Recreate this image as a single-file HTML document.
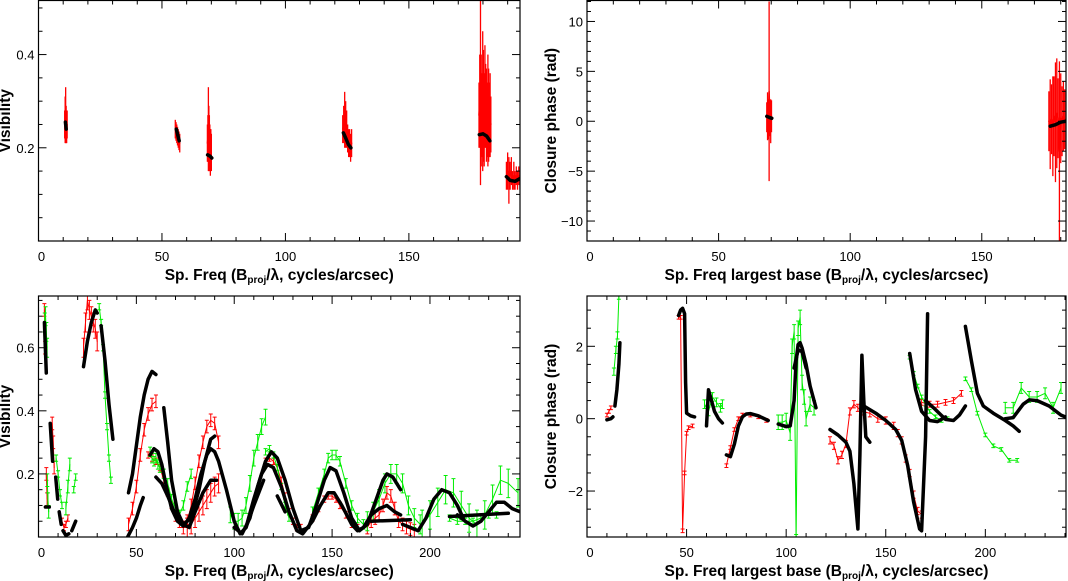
<!DOCTYPE html>
<html><head><meta charset="utf-8"><style>
html,body{margin:0;padding:0;background:#fff;}
svg{display:block;font-family:"Liberation Sans",sans-serif;}
</style></head><body>
<svg id="fig" width="1068" height="581" viewBox="0 0 1068 581"></svg>
<script>
// ---------- Panel A (top-left): visibility, red data ----------
const tlX = [10.6,10.8,11.0,11.2,11.4,11.6,null,55.4,55.7,56.0,56.3,56.6,56.9,57.2,null,68.4,68.6,68.8,69.0,69.2,69.4,69.6,69.8,70.0,null,123.2,123.6,124,124.4,124.8,125.2,125.6,126,126.4,126.8,null,178.4,178.7,179,179.3,179.6,179.9,180.2,180.5,180.8,181.1,181.4,181.7,182,182.3,182.6,182.9,183.2,null,189.5,190,190.5,191,191.5,192,192.5,193,193.5,194,194.5,195];
const tlV = [0.25,0.26,0.27,0.25,0.24,0.25,null,0.24,0.235,0.23,0.225,0.22,0.215,0.21,null,0.21,0.22,0.24,0.22,0.21,0.2,0.19,0.2,0.19,null,0.24,0.25,0.26,0.25,0.24,0.22,0.21,0.21,0.2,0.21,null,0.27,0.3,0.32,0.28,0.27,0.30,0.29,0.26,0.31,0.29,0.27,0.26,0.28,0.27,0.26,0.27,0.25,null,0.14,0.15,0.13,0.14,0.15,0.13,0.14,0.13,0.14,0.13,0.14,0.13];
const tlE = [0.03,0.05,0.06,0.04,0.03,0.03,null,0.02,0.02,0.02,0.02,0.02,0.02,0.02,null,0.04,0.05,0.09,0.07,0.06,0.05,0.05,0.04,0.04,null,0.03,0.04,0.06,0.05,0.04,0.03,0.03,0.03,0.03,0.03,null,0.07,0.1,0.2,0.12,0.09,0.15,0.12,0.1,0.11,0.09,0.1,0.08,0.12,0.1,0.08,0.09,0.06,null,0.03,0.04,0.05,0.03,0.03,0.02,0.03,0.02,0.02,0.02,0.02,0.02];
const tlModel = [
 [[10.9,0.255],[11.2,0.24]],
 [[55.8,0.24],[56.5,0.225],[57,0.215]],
 [[68.5,0.185],[69.5,0.182],[70.2,0.178]],
 [[123.5,0.232],[124.5,0.22],[125.5,0.207],[126.5,0.2]],
 [[178.5,0.228],[180,0.23],[181.5,0.225],[182.8,0.215]],
 [[189.5,0.138],[191,0.13],[193,0.128],[195,0.134]]
];
// ---------- Panel B (top-right): closure phase ----------
const trX = [68.3,68.6,68.9,69.2,69.5,69.8,70.1,null,175.5,176,176.5,177,177.5,178,178.5,179,179.5,180,180.5,181,181.5,182];
const trP = [0.4,0.5,0.2,3.0,0.3,0.0,0.5,null,0.0,-0.3,0.2,-0.5,0.5,-0.1,0.8,0.3,-3.0,0.3,0.0,0.5,0.2,0.0];
const trE = [1.5,2.4,2.0,9.0,1.8,2.2,1.6,null,3.0,4.5,3.5,5.0,4.0,6.0,5.5,4.0,9.0,4.5,3.5,3.5,3.0,3.0];
const trModel = [
 [[68.3,0.5],[69.2,0.4],[70.2,0.3]],
 [[176,-0.5],[178,-0.35],[180,-0.1],[182,0.0]]
];
// ---------- Panel C (bottom-left): visibility, red & green ----------
const blGreen = [
 [[3.2,0.68],[3.6,0.70],[4.0,0.65],[4.4,0.60]],
 [[4.5,0.18],[4.8,0.12],[5.2,0.08]],
 [[9,0.25],[10,0.2],[11,0.14],[12,0.1]],
 [[14,0.09],[15,0.16],[16,0.23]],
 [[18,0.15],[19,0.19]],
 [[31,0.73],[32,0.68],[33,0.6],[34,0.45],[35,0.35],[36,0.25],[37,0.18]],
 [[57,0.27],[58,0.25],[59,0.24],[60,0.25],[61,0.23],[62,0.22],[64,0.2],[66,0.17],[68,0.12],[70,0.09],[72,0.07],[74,0.1],[76,0.16],[78,0.2]],
 [[98,0.07],[100,0.05],[102,0.05],[104,0.06],[106,0.1],[108,0.17],[110,0.25],[112,0.3],[114,0.35],[116,0.38]],
 [[116,0.27],[118,0.28],[120,0.26],[122,0.22],[124,0.16],[126,0.1],[128,0.06]],
 [[140,0.08],[143,0.14],[146,0.2],[148,0.25],[150,0.26],[152,0.26],[154,0.24],[157,0.17],[160,0.1],[163,0.06],[166,0.04]],
 [[168,0.05],[171,0.08],[174,0.12],[177,0.17],[180,0.2],[183,0.2],[186,0.17],[189,0.1],[192,0.06],[195,0.04]],
 [[196,0.04],[200,0.07],[204,0.11],[208,0.15],[212,0.14],[216,0.1],[220,0.06],[224,0.04],[228,0.07],[232,0.12],[236,0.18],[240,0.17],[245,0.14]],
 [[210,0.06],[214,0.05],[218,0.05],[222,0.05],[226,0.06],[230,0.07],[234,0.07]]
];
const blGreenErr = [0.03,0.02,0.01,0.02,0.01,0.01,0.015,0.025,0.01,0.015,0.03,0.045,0.01];
const blRed = [
 [[3.0,0.72],[3.4,0.6]],
 [[4.0,0.2],[4.4,0.12]],
 [[7,0.36],[7.5,0.3],[8,0.22]],
 [[12,0.05],[13,0.03],[14,0.04],[15,0.06]],
 [[23,0.6],[24,0.68],[25,0.75],[26,0.72],[27,0.7],[28,0.68],[29,0.66],[30,0.62]],
 [[46,0.04],[48,0.09],[50,0.16],[52,0.26],[54,0.34],[56,0.39],[58,0.42],[60,0.43]],
 [[56,0.26],[58,0.25],[60,0.24],[62,0.22],[64,0.18],[66,0.14],[68,0.1],[70,0.06],[72,0.04],[74,0.04],[76,0.05]],
 [[74,0.03],[76,0.05],[78,0.1],[80,0.17],[82,0.24],[84,0.3],[86,0.35],[88,0.37],[90,0.36],[92,0.3]],
 [[76,0.03],[78,0.04],[80,0.06],[82,0.08],[84,0.1],[86,0.12],[88,0.14],[90,0.16],[92,0.17]],
 [[116,0.24],[118,0.25],[120,0.24],[122,0.22],[124,0.18],[126,0.13],[128,0.08],[130,0.05],[132,0.03],[134,0.03]],
 [[140,0.06],[143,0.09],[146,0.12],[148,0.13],[150,0.13],[152,0.12],[154,0.1],[157,0.07],[160,0.04],[163,0.03]],
 [[168,0.03],[170,0.05],[172,0.06],[174,0.07],[176,0.1],[178,0.14],[180,0.13],[182,0.09],[184,0.05],[186,0.04],[188,0.03],[190,0.025],[192,0.02]]
];
const blRedErr = [0.02,0.02,0.02,0.01,0.03,0.02,0.01,0.02,0.03,0.01,0.01,0.02];
const blModel = [
 [[3,0.68],[4,0.52]],
 [[3.5,0.095],[5.5,0.095]],
 [[6,0.36],[7.2,0.24]],
 [[8.8,0.19],[9.8,0.12]],
 [[10.6,0.08],[11.6,0.04]],
 [[12.5,0.02],[14,0.005],[15.5,0.01]],
 [[17,0.02],[19,0.05]],
 [[23,0.54],[25,0.62],[27,0.68],[29,0.72],[30,0.71]],
 [[32,0.67],[34,0.56],[36,0.42],[38,0.31]],
 [[46,0.14],[48,0.2],[50,0.29],[52,0.38],[54,0.45],[56,0.5],[58,0.525],[60,0.515]],
 [[45.5,0.0],[48,0.03],[50,0.06],[52,0.1],[53.5,0.125]],
 [[57,0.26],[59,0.28],[61,0.27],[63,0.23],[65,0.17],[68,0.09],[71,0.05],[74,0.035],[77,0.06],[80,0.12],[83,0.2],[86,0.26],[88,0.28],[90,0.27],[92,0.24],[96,0.15],[100,0.05],[103,0.01],[106,0.03],[110,0.12],[114,0.2],[117,0.23],[120,0.22],[124,0.16],[128,0.08],[132,0.02],[135,0.01],[140,0.05],[144,0.1],[148,0.14],[151,0.14],[155,0.1],[160,0.04],[163,0.02],[166,0.03],[170,0.07],[174,0.09],[178,0.1],[182,0.08],[185,0.07]],
 [[60,0.19],[63,0.17],[66,0.13],[70,0.07],[74,0.04],[77,0.03],[80,0.08],[84,0.14],[88,0.18],[91,0.18]],
 [[64,0.41],[66,0.3],[68,0.18],[71,0.08],[74,0.04],[78,0.06],[82,0.15],[85,0.24],[88,0.31],[90,0.32]],
 [[100,0.03],[104,0.01],[108,0.06],[112,0.16],[116,0.24],[119,0.27],[122,0.25],[126,0.18],[130,0.09],[134,0.02],[138,0.03],[142,0.1],[146,0.18],[149,0.22],[152,0.21],[156,0.14],[160,0.06],[164,0.02],[168,0.04],[172,0.11],[176,0.18],[178,0.2],[181,0.19],[185,0.15]],
 [[106,0.03],[110,0.1],[115,0.18]],
 [[122,0.13],[126,0.08]],
 [[170,0.05],[190,0.055]],
 [[186,0.04],[190,0.03],[194,0.02],[198,0.06],[202,0.12],[206,0.15],[210,0.14],[214,0.1],[217,0.06]],
 [[210,0.065],[240,0.075]],
 [[214,0.07],[218,0.05],[222,0.035],[226,0.05],[230,0.08],[234,0.11],[238,0.11],[242,0.09],[246,0.08]]
];
// ---------- Panel D (bottom-right): closure phase ----------
const brGreen = [
 [[13.5,1.3],[14.5,1.9],[15.3,2.3],[16,3.4]],
 [[59,0.4],[61,0.2],[63,0.6],[65,0.45],[67,0.3],[68,0.4]],
 [[96,-0.1],[98,-0.1],[100,-0.05],[102,-0.4],[103,2.0],[104,2.4],[105,-3.4],[106,2.5],[107,2.8],[108,1.0],[109,0.6],[110,0.0],[112,0.4],[114,0.3]],
 [[162,1.7],[164,1.25],[166,0.9],[168,0.6],[170,0.4],[172,0.2],[175,0.05],[178,-0.05],[181,0.0]],
 [[190,1.1],[193,0.8],[196,0.15],[200,-0.45],[204,-0.75],[208,-0.85],[212,-1.15],[216,-1.15]],
 [[210,0.3],[214,0.3],[218,0.85],[222,0.6],[226,0.6],[230,0.7],[234,0.3],[238,0.85]]
];
const brGreenErr = [0.1,0.12,0.2,0.05,0.05,0.15];
const brRed = [
 [[10,0.1],[11,0.2],[12,0.3]],
 [[46,2.8],[47,2.8],[48,-3.1],[49,-1.5],[50,-0.4],[51,-0.25],[53,-0.2]],
 [[70,-1.3],[72,-0.8],[74,-0.3],[76,0.0],[78,0.1],[82,0.1],[86,0.05],[90,-0.05]],
 [[122,-0.6],[124,-0.75],[126,-1.15],[128,-1.0],[130,-0.7],[132,0.2],[134,0.4],[136,0.3],[138,0.2],[142,0.15],[146,0.0],[150,-0.05],[154,-0.2],[156,-0.4],[158,-0.6],[160,-1.1],[162,-1.5],[164,-2.1],[166,-2.55],[168,-2.65]],
 [[168,0.45],[172,0.4],[176,0.4],[180,0.45],[184,0.5],[188,0.7]]
];
const brRedErr = [0.05,0.05,0.05,0.1,0.08];
const brModel = [
 [[10,-0.03],[12,0.0],[13,0.05]],
 [[14,0.35],[15,0.8],[16,1.5],[16.5,2.1]],
 [[46,2.85],[47,3.0],[48,3.05],[49,2.9],[49.5,1.0],[50,0.15],[52,0.08],[54,0.05]],
 [[60,-0.2],[61,0.8],[62,0.6],[64,0.2],[66,0.0],[68,-0.12]],
 [[70,-1.0],[72,-1.05],[74,-0.7],[76,-0.2],[78,0.05],[80,0.13],[82,0.14],[86,0.08],[91,-0.05]],
 [[96,-0.15],[100,-0.22],[102,-0.2],[104,0.5],[105,1.6],[106,2.05],[107,2.1],[108,1.95],[110,1.5],[112,0.9],[115,0.3]],
 [[104,1.4],[106,1.9],[108,1.85],[110,1.4]],
 [[122,-0.3],[126,-0.45],[130,-0.65],[132,-0.9],[134,-1.8],[136,-3.05],[137,-1.0],[138,1.75],[139,0.5],[140,-0.5],[142,-0.65]],
 [[139,0.35],[145,0.15],[150,-0.05],[155,-0.3],[158,-0.6],[161,-1.3],[164,-2.3],[167,-3.05],[168,-3.1],[170,-0.5],[171,2.9]],
 [[162,1.8],[165,0.8],[168,0.2],[172,-0.05],[176,-0.08],[180,0.05]],
 [[170,0.5],[175,0.25],[180,-0.02],[184,-0.05],[187,0.1],[190,0.35]],
 [[190,2.55],[193,1.6],[196,0.7],[199,0.35],[204,0.15],[210,-0.05],[214,-0.2],[217,-0.35]],
 [[210,0.0],[214,0.03],[219,0.4],[222,0.52],[226,0.5],[232,0.35],[238,0.1],[241,0.03]]
];
const xTickLabels = ["0","50","100","150","200"];

const NS="http://www.w3.org/2000/svg";
const svg=document.getElementById('fig');
function mk(tag,attrs,parent){const e=document.createElementNS(NS,tag);for(const k in attrs)e.setAttribute(k,attrs[k]);(parent||svg).appendChild(e);return e;}

function panel(cfg){
  const g=mk('g',{});
  
  
  const sx=v=>cfg.x0+(v-cfg.xmin)/(cfg.xmax-cfg.xmin)*(cfg.x1-cfg.x0);
  const sy=v=>cfg.y1-(v-cfg.ymin)/(cfg.ymax-cfg.ymin)*(cfg.y1-cfg.y0);
  const cid='clip-'+cfg.name;
  const cp=mk('clipPath',{id:cid},g);
  mk('rect',{x:cfg.x0,y:cfg.y0,width:cfg.x1-cfg.x0,height:cfg.y1-cfg.y0},cp);
  const plot=mk('g',{'clip-path':'url(#'+cid+')'},g);
  
  
  return {g,plot,sx,sy,cfg};
}
function axes(P,ylab,xminor,yminor,ymajor,ylabels,xtitle,ytitle){
  const c=P.cfg,g=P.g;
  const frame=mk('rect',{x:c.x0,y:c.y0,width:c.x1-c.x0,height:c.y1-c.y0,fill:'none',stroke:'#000','stroke-width':1.2},g);
  
  
  for(let v=0;v<=c.xmax+1e-9;v+=xminor){
    const x=P.sx(v);const maj=Math.abs(v/50-Math.round(v/50))<1e-6;const L=maj?8:4;
    mk('line',{x1:x,x2:x,y1:c.y1,y2:c.y1-L,stroke:'#000','stroke-width':1},g);
    mk('line',{x1:x,x2:x,y1:c.y0,y2:c.y0+L,stroke:'#000','stroke-width':1},g);
    if(maj){const t=mk('text',{x:x+(v===0?3:0),y:c.y1+20,'font-size':13,'text-anchor':'middle',fill:'#000'},g);t.textContent=xTickLabels[Math.round(v/50)];
      }
  }
  const start=Math.ceil(c.ymin/yminor)*yminor;
  for(let v=start;v<=c.ymax+1e-9;v+=yminor){
    const y=P.sy(v);const maj=Math.abs(v/ymajor-Math.round(v/ymajor))<1e-6;const L=maj?8:4;
    mk('line',{x1:c.x0,x2:c.x0+L,y1:y,y2:y,stroke:'#000','stroke-width':1},g);
    mk('line',{x1:c.x1,x2:c.x1-L,y1:y,y2:y,stroke:'#000','stroke-width':1},g);
  }
  ylabels.forEach(v=>{const t=mk('text',{x:c.x0-4,y:P.sy(v)+5,'font-size':13,'text-anchor':'end',fill:'#000'},g);
    t.textContent=(v<0?'\u2212'+String(-v):String(v));
    });
  const xt=mk('text',{x:(c.x0+c.x1)/2,y:c.y1+39,'font-size':15.5,'font-weight':'bold','text-anchor':'middle',fill:'#000'},g);
  xt.innerHTML=xtitle+' (B<tspan font-size="10" dy="3">proj</tspan><tspan dy="-3">/λ, cycles/arcsec)</tspan>';
  
  const cy=(c.y0+c.y1)/2;
  const yt=mk('text',{x:ylab,y:cy,'font-size':15.5,'font-weight':'bold','text-anchor':'middle',fill:'#000',transform:'rotate(-90 '+ylab+' '+cy+')'},g);
  yt.textContent=ytitle;
  
}
function line(P,pts,color,w,name){
  const d=pts.map((p,i)=>(i?'L':'M')+P.sx(p[0]).toFixed(1)+' '+P.sy(p[1]).toFixed(1)).join('');
  const e=mk('path',{d,fill:'none',stroke:color,'stroke-width':w,'stroke-linecap':'round','stroke-linejoin':'round'},P.plot);
  
  
}
function errs(P,pts,err,color,cap,name){
  pts.forEach(p=>{const x=P.sx(p[0]);const a=P.sy(p[1]-err),b=P.sy(p[1]+err);
    const e=mk('path',{d:'M'+x+' '+a+'L'+x+' '+b+(cap?'M'+(x-2)+' '+a+'h4M'+(x-2)+' '+b+'h4':''),stroke:color,'stroke-width':cap?1:1.3,fill:'none'},P.plot);
    
    });
}
function fromArrays(xs,vs){const segs=[];let cur=[];xs.forEach((x,i)=>{if(x===null){if(cur.length)segs.push(cur);cur=[];}else cur.push([x,vs[i]]);});if(cur.length)segs.push(cur);return segs;}

// Panel A
const A=panel({name:'visibility-panel-top',x0:38.5,x1:520,y0:0.5,y1:241,xmin:0,xmax:195,ymin:0,ymax:0.516});
{const sv=fromArrays(tlX,tlV),se=fromArrays(tlX,tlE);
 sv.forEach((s,i)=>{s.forEach((p,j)=>errs(A,[p],se[i][j][1],'#ff0000',false,'error-bar'));line(A,s,'#ff0000',1.5,'visibility-data');});
 tlModel.forEach(s=>line(A,s,'#000',3.5,'model-curve'));}
axes(A,10,10,0.05,0.2,[0.2,0.4],'Sp. Freq','Visibility');

// Panel B
const B=panel({name:'closure-phase-panel-top',x0:587,x1:1066,y0:0.5,y1:241,xmin:0,xmax:182,ymin:-12,ymax:12.1});
{const sv=fromArrays(trX,trP),se=fromArrays(trX,trE);
 sv.forEach((s,i)=>{s.forEach((p,j)=>errs(B,[p],se[i][j][1],'#ff0000',false,'error-bar'));line(B,s,'#ff0000',1.5,'closure-phase-data');});
 trModel.forEach(s=>line(B,s,'#000',3.5,'model-curve'));}
axes(B,556,10,1,5,[-10,-5,0,5,10],'Sp. Freq largest base','Closure phase (rad)');

// Panel C
const C=panel({name:'visibility-panel-bottom',x0:38.5,x1:520,y0:296,y1:537,xmin:0,xmax:246,ymin:0,ymax:0.764});
blRed.forEach((s,i)=>{errs(C,s,blRedErr[i],'#ff0000',true,'error-bar');line(C,s,'#ff0000',1,'red-visibility-data');});
blGreen.forEach((s,i)=>{errs(C,s,blGreenErr[i],'#00ee00',true,'error-bar');line(C,s,'#00ee00',1,'green-visibility-data');});
blModel.forEach(s=>line(C,s,'#000',3.5,'model-curve'));
axes(C,10,10,0.05,0.2,[0.2,0.4,0.6],'Sp. Freq','Visibility');

// Panel D
const D=panel({name:'closure-phase-panel-bottom',x0:587,x1:1066,y0:296,y1:537,xmin:0,xmax:240.5,ymin:-3.27,ymax:3.39});
brRed.forEach((s,i)=>{errs(D,s,brRedErr[i],'#ff0000',true,'error-bar');line(D,s,'#ff0000',1,'red-phase-data');});
brGreen.forEach((s,i)=>{errs(D,s,brGreenErr[i],'#00ee00',true,'error-bar');line(D,s,'#00ee00',1,'green-phase-data');});
brModel.forEach(s=>line(D,s,'#000',3.5,'model-curve'));
axes(D,556,10,0.5,2,[-2,0,2],'Sp. Freq largest base','Closure phase (rad)');
</script>
</body></html>
